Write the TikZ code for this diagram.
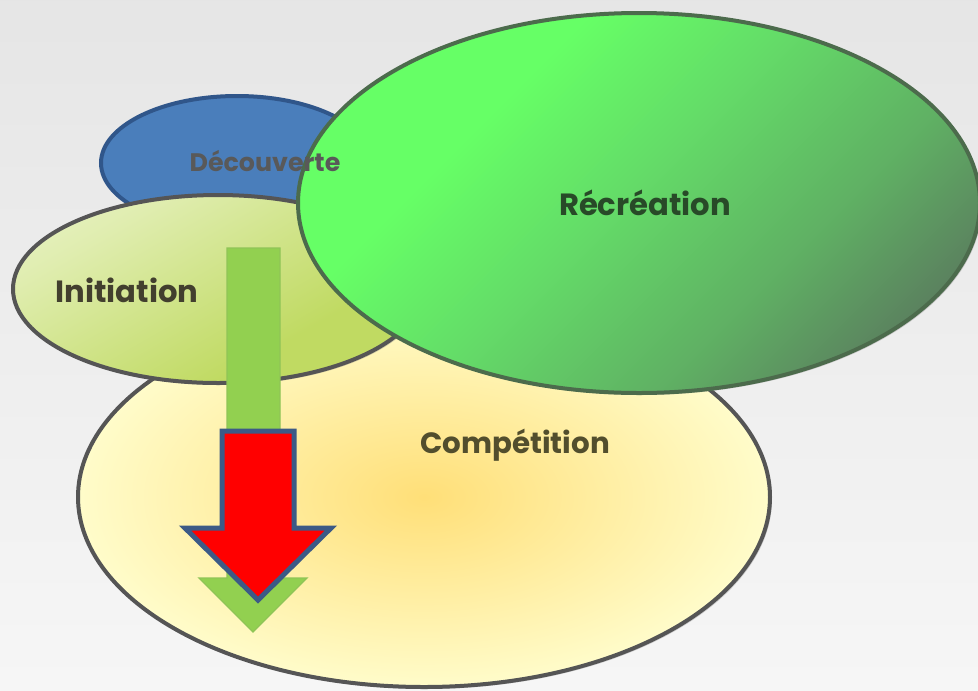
\documentclass[tikz,border=0pt]{standalone}
\usepackage{fontspec}
\setsansfont{Poppins}
\usetikzlibrary{shadows}

\definecolor{decouvfill}{HTML}{4A7EBB}
\definecolor{decouvline}{HTML}{30568A}
\definecolor{initlight}{HTML}{F5FAE4}
\definecolor{initdark}{HTML}{C0DA62}
\definecolor{recrlight}{HTML}{66FF66}
\definecolor{recrmid}{HTML}{64DC68}
\definecolor{recrdark}{HTML}{5A7A5E}
\definecolor{compinner}{HTML}{FFDF78}
\definecolor{compouter}{HTML}{FFFCCA}
\definecolor{arrowgreen}{HTML}{92D050}
\definecolor{arrowline}{HTML}{3C5A86}
\definecolor{bubbleline}{HTML}{555555}
\definecolor{recrtext}{HTML}{284A28}

\pgfdeclareverticalshading{initshade}{100bp}{color(0bp)=(initdark); color(35bp)=(initdark); color(70bp)=(initlight!60!initdark); color(100bp)=(initlight)}
\pgfdeclareverticalshading{recrshade}{100bp}{color(0bp)=(recrdark); color(22bp)=(recrdark); color(36bp)=(recrdark!45!recrmid); color(52bp)=(recrmid); color(66bp)=(recrlight); color(100bp)=(recrlight)}

\newcommand{\bubblelabel}[2]{\fontsize{#1}{#1}\sffamily\bfseries #2}

\begin{document}
\begin{tikzpicture}[x=0.75pt,y=-0.75pt]

\tikzstyle{bubble}=[draw=bubbleline,line width=3pt,
  drop shadow={shadow xshift=1.5pt,shadow yshift=-1.5pt,opacity=0.35}]
\tikzstyle{bubbletext}=[inner sep=0pt]

\useasboundingbox (0,0) rectangle (978,690);
\clip (0,0) rectangle (978,690);

% background
\shade[top color=gray!20,bottom color=gray!7] (0,0) rectangle (978,690);

% ellipses, back to front
\draw[bubble,draw=decouvline,fill=decouvfill] (237,163) ellipse [x radius=136, y radius=67];
\draw[bubble,inner color=compinner,outer color=compouter] (424,497) ellipse [x radius=346, y radius=190];
\draw[bubble,shade,shading=initshade,shading angle=30] (218,289) ellipse [x radius=205, y radius=94];
\draw[bubble,draw=black!70!green!40!gray,shade,shading=recrshade,shading angle=45] (639,203) ellipse [x radius=341, y radius=190];

% arrows
\draw[fill=arrowgreen,draw=arrowgreen!85!gray,line width=1pt]
  (227,248) -- (280,248) -- (280,578) -- (307,578) -- (253,632) -- (199,578) -- (227,578) -- cycle;
\draw[fill=red,draw=arrowline,line width=3.75pt,miter limit=10]
  (222,431) -- (294,431) -- (294,528) -- (331,528) -- (258,600) -- (185,528) -- (222,528) -- cycle;

% labels
\node[bubbletext,text=black!65] (decouverte) at (265,161) {\bubblelabel{19pt}{Découverte}};
\node[bubbletext,text=black!70!olive] (initiation) at (127,290) {\bubblelabel{23pt}{Initiation}};
\node[bubbletext,text=recrtext] (recreation) at (645,203) {\bubblelabel{23pt}{Récréation}};
\node[bubbletext,text=black!55!olive] (competition) at (515,445) {\bubblelabel{22pt}{Compétition}};

\end{tikzpicture}
\end{document}
